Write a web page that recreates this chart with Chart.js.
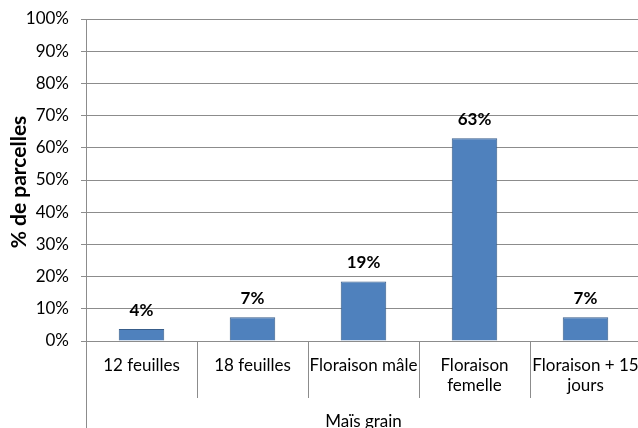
<!DOCTYPE html>
<html>
<head>
<meta charset="utf-8">
<script src="https://cdn.jsdelivr.net/npm/chart.js@4/dist/chart.umd.min.js"></script>
<style>
  html, body { margin: 0; padding: 0; background: #fff; overflow: hidden; }
  #wrap { width: 641px; height: 428px; position: relative; }
</style>
</head>
<body>
<div id="wrap"><canvas id="chart"></canvas></div>
<script>
const categories = ['12 feuilles', '18 feuilles', 'Floraison mâle', ['Floraison', 'femelle'], ['Floraison + 15', 'jours']];
const values = [3.7, 7.4, 18.5, 63, 7.4];
const groupLabel = 'Maïs grain';
const yTitle = '% de parcelles';

const FONT = 'Lato, "Open Sans", sans-serif';
const GRID = '#8c8c8c';

// extra drawing: value labels, category separators, group label, axis title
const decorations = {
    id: 'decorations',
    afterDraw(chart) {
        const ctx = chart.ctx;
        const area = chart.chartArea;
        const meta = chart.getDatasetMeta(0);
        ctx.save();

        // value labels
        ctx.fillStyle = '#000';
        ctx.font = 'bold 17px ' + FONT;
        ctx.textAlign = 'center';
        ctx.textBaseline = 'alphabetic';
        meta.data.forEach((bar, i) => {
            ctx.fillText(Math.round(values[i]) + '%', bar.x, bar.y - 13);
        });

        // separators under the axis
        ctx.strokeStyle = GRID;
        ctx.lineWidth = 1;
        ctx.beginPath();
        const step = (area.right - area.left) / categories.length;
        for (let i = 1; i <= categories.length; i++) {
            const px = Math.round(area.left + step * i) + 0.5;
            ctx.moveTo(px, area.bottom);
            ctx.lineTo(px, area.bottom + 57);
        }
        const lx = Math.round(area.left) + 0.5;
        ctx.moveTo(lx, area.bottom);
        ctx.lineTo(lx, chart.height);
        ctx.stroke();

        // group label
        ctx.font = '17px ' + FONT;
        ctx.fillText(groupLabel, (area.left + 641) / 2, area.bottom + 86);

        // y title
        ctx.font = 'bold 21px ' + FONT;
        ctx.textBaseline = 'middle';
        ctx.translate(19, (area.top + area.bottom) / 2 + 2);
        ctx.rotate(-Math.PI / 2);
        ctx.fillText(yTitle, 0, 0);
        ctx.restore();
    }
};

new Chart(document.getElementById('chart'), {
    type: 'bar',
    data: {
        labels: categories,
        datasets: [{
            data: values,
            backgroundColor: '#4F81BD',
            borderColor: '#385D8A',
            borderWidth: 1,
            barPercentage: 0.41,
            categoryPercentage: 1
        }]
    },
    options: {
        responsive: true,
        maintainAspectRatio: false,
        animation: false,
        layout: { padding: { top: 19, left: 0, right: 0, bottom: 0 } },
        plugins: {
            legend: { display: false },
            tooltip: { enabled: false }
        },
        scales: {
            x: {
                grid: { display: false, drawTicks: false },
                border: { display: false },
                ticks: {
                    color: '#000',
                    font: { family: FONT, size: 17, lineHeight: 1.2 },
                    padding: 14,
                    maxRotation: 0,
                    autoSkip: false
                },
                afterFit(scale) {
                    scale.height = 87;
                    scale.paddingLeft = 0;
                    scale.paddingRight = 0;
                }
            },
            y: {
                min: 0,
                max: 100,
                ticks: {
                    stepSize: 10,
                    color: '#000',
                    font: { family: FONT, size: 17 },
                    padding: 12,
                    callback: v => v + '%'
                },
                grid: { color: GRID, tickLength: 5 },
                border: { color: GRID },
                afterFit(scale) {
                    scale.width = 86;
                    scale.paddingTop = 0;
                    scale.paddingBottom = 0;
                }
            }
        }
    },
    plugins: [decorations]
});
</script>
</body>
</html>
